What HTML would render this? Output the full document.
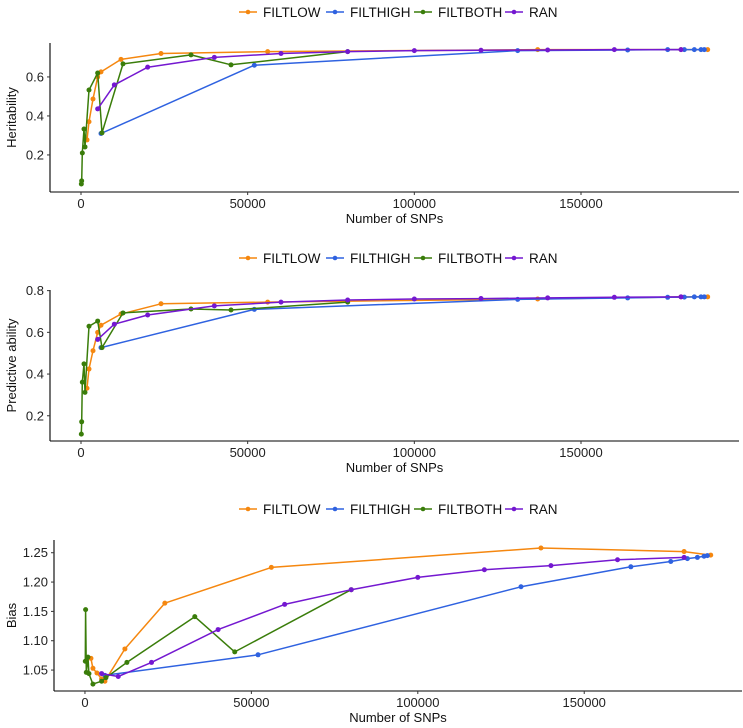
<!DOCTYPE html>
<html><head><meta charset="utf-8">
<style>
body{margin:0;background:#fff;font-family:"Liberation Sans",sans-serif;}
svg{display:block}
text{font-family:"Liberation Sans",sans-serif;}
</style></head>
<body>
<svg id="chart" width="743" height="728" viewBox="0 0 743 728"></svg>
<script>
const seriesNames = ["FILTLOW","FILTHIGH","FILTBOTH","RAN"];
const colors = ["#f5870f","#2f62e0","#3a7d0a","#7418d0"];
const xTicks = [0,50000,100000,150000];
const xTickLabels = ["0","50000","100000","150000"];

const lowX = [1800,2400,3600,5000,6000,12000,24000,56000,137000,180000,188000];
const highX = [6000,52000,131000,164000,176000,181000,184000,186000,187000];
const bothX = [100,200,400,900,1200,2400,5000,6300,12600,33000,45000,80000];
const ranX = [5000,10000,20000,40000,60000,80000,100000,120000,140000,160000,180000];

const herLow = [0.277,0.37,0.487,0.6,0.626,0.69,0.72,0.73,0.74,0.74,0.74];
const herHigh = [0.31,0.66,0.735,0.738,0.74,0.74,0.74,0.74,0.74];
const herBoth = [0.051,0.067,0.21,0.333,0.241,0.533,0.62,0.313,0.667,0.713,0.662,0.73];
const herRan = [0.436,0.559,0.65,0.70,0.72,0.73,0.735,0.737,0.738,0.74,0.74];

const predLow = [0.332,0.424,0.512,0.6,0.634,0.688,0.737,0.745,0.76,0.77,0.77];
const predHigh = [0.527,0.71,0.758,0.765,0.768,0.769,0.77,0.77,0.77];
const predBoth = [0.112,0.171,0.361,0.449,0.312,0.629,0.654,0.527,0.693,0.712,0.707,0.745];
const predRan = [0.566,0.639,0.683,0.727,0.745,0.755,0.76,0.762,0.765,0.768,0.77];

const biasLow = [1.070,1.053,1.045,1.035,1.031,1.086,1.164,1.225,1.258,1.252,1.246];
const biasHigh = [1.041,1.076,1.192,1.226,1.235,1.240,1.242,1.244,1.245];
const biasBoth = [1.065,1.153,1.046,1.072,1.044,1.026,1.031,1.037,1.063,1.141,1.081,1.187];
const biasRan = [1.044,1.039,1.063,1.119,1.162,1.187,1.208,1.221,1.228,1.238,1.242];

const herTicks = [0.2,0.4,0.6], herTickLabels = ["0.2","0.4","0.6"];
const predTicks = [0.2,0.4,0.6,0.8], predTickLabels = ["0.2","0.4","0.6","0.8"];
const biasTicks = [1.05,1.10,1.15,1.20,1.25], biasTickLabels = ["1.05","1.10","1.15","1.20","1.25"];

const NS = "http://www.w3.org/2000/svg";
const svg = document.getElementById("chart");
function el(tag, attrs, parent){
  const e = document.createElementNS(NS, tag);
  for (const k in attrs) e.setAttribute(k, attrs[k]);
  (parent||svg).appendChild(e);
  return e;
}

function panel(cfg){
  const g = el("g", {});
  
  
  const xMin=-9300, xMax=197400;
  const sx = v => cfg.left + (v - xMin) / (xMax - xMin) * (cfg.right - cfg.left);
  const sy = v => cfg.bottom - (v - cfg.yMin) / (cfg.yMax - cfg.yMin) * (cfg.bottom - cfg.top);

  const lg = el("g", {}, g);
  
  
  const starts = [239,326,414,505];
  seriesNames.forEach((n,i)=>{
    const lx = starts[i];
    const item = el("g", {}, lg);
    
    
    el("line",{x1:lx,y1:cfg.legendY,x2:lx+18,y2:cfg.legendY,stroke:colors[i],"stroke-width":1.6},item);
    el("circle",{cx:lx+9,cy:cfg.legendY,r:2.3,fill:colors[i]},item);
    const t = el("text",{x:lx+24,y:cfg.legendY+5,"font-size":13.5,fill:"#111"},item);
    t.textContent = n;
  });

  const ax = el("g", {}, g);
  
  
  el("line",{x1:cfg.left,y1:cfg.top,x2:cfg.left,y2:cfg.bottom,stroke:"#000","stroke-width":1.1},ax);
  el("line",{x1:cfg.left,y1:cfg.bottom,x2:cfg.right,y2:cfg.bottom,stroke:"#000","stroke-width":1.1},ax);
  xTicks.forEach((v,i)=>{
    const x = sx(v);
    el("line",{x1:x,y1:cfg.bottom,x2:x,y2:cfg.bottom+3,stroke:"#333","stroke-width":1},ax);
    const t = el("text",{x:x,y:cfg.bottom+16,"font-size":13,fill:"#222","text-anchor":"middle"},ax);
    
    
    t.textContent = xTickLabels[i];
  });
  cfg.yTicks.forEach((v,i)=>{
    const y = sy(v);
    el("line",{x1:cfg.left-3,y1:y,x2:cfg.left,y2:y,stroke:"#333","stroke-width":1},ax);
    const t = el("text",{x:cfg.left-6,y:y+4.5,"font-size":13,fill:"#222","text-anchor":"end"},ax);
    
    
    t.textContent = cfg.yTickLabels[i];
  });
  const xt = el("text",{x:(cfg.left+cfg.right)/2,y:cfg.bottom+31,"font-size":13,fill:"#111","text-anchor":"middle"},ax);
  
  
  xt.textContent = "Number of SNPs";
  const yc = (cfg.top+cfg.bottom)/2;
  const yt = el("text",{x:16,y:yc,"font-size":13,fill:"#111","text-anchor":"middle",transform:"rotate(-90 16 "+yc+")"},ax);
  
  
  yt.textContent = cfg.yTitle;

  cfg.series.forEach((s,i)=>{
    const sg = el("g", {}, g);
    
    
    const pts = s.x.map((xv,j)=> sx(xv).toFixed(1)+","+sy(s.y[j]).toFixed(1)).join(" ");
    el("polyline",{points:pts,fill:"none",stroke:colors[i],"stroke-width":1.5,"stroke-linejoin":"round"},sg);
    s.x.forEach((xv,j)=>{
      const c = el("circle",{cx:sx(xv),cy:sy(s.y[j]),r:2.5,fill:colors[i]},sg);
      
      
    });
  });
}

panel({name:"heritability",left:50,right:739,top:43,bottom:192,yMin:0.01,yMax:0.774,legendY:12,
  yTicks:herTicks,yTickLabels:herTickLabels,yTitle:"Heritability",
  series:[{x:lowX,y:herLow},{x:highX,y:herHigh},{x:bothX,y:herBoth},{x:ranX,y:herRan}]});
panel({name:"predictive-ability",left:50,right:739,top:290,bottom:441,yMin:0.079,yMax:0.803,legendY:258,
  yTicks:predTicks,yTickLabels:predTickLabels,yTitle:"Predictive ability",
  series:[{x:lowX,y:predLow},{x:highX,y:predHigh},{x:bothX,y:predBoth},{x:ranX,y:predRan}]});
panel({name:"bias",left:54,right:742,top:540,bottom:691,yMin:1.0143,yMax:1.2717,legendY:509,
  yTicks:biasTicks,yTickLabels:biasTickLabels,yTitle:"Bias",
  series:[{x:lowX,y:biasLow},{x:highX,y:biasHigh},{x:bothX,y:biasBoth},{x:ranX,y:biasRan}]});
</script>
</body></html>
